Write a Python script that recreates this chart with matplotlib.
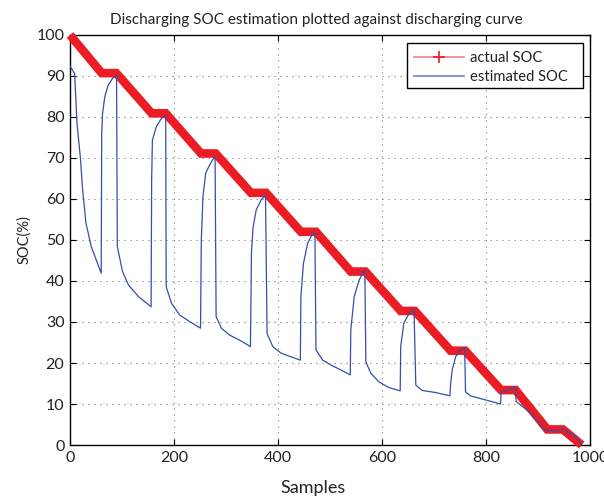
import matplotlib
matplotlib.use('Agg')
import matplotlib.pyplot as plt
from matplotlib.patches import Rectangle
import numpy as np

# actual SOC: discharge / rest staircase (sample, %)
actual_x = [0, 61, 89, 157, 184, 252, 280, 348, 377, 444, 473, 540, 568,
            636, 663, 732, 760, 829, 857, 918, 948, 984]
actual_y = [100, 90.7, 90.7, 80.9, 80.9, 71.1, 71.1, 61.5, 61.5, 52.0, 52.0,
            42.3, 42.3, 32.7, 32.7, 23.0, 23.0, 13.4, 13.4, 3.8, 3.8, 0]

# estimated SOC (sample, %)
est_x = [0, 9, 13.4, 19.8, 24.3, 30.7, 40.9, 51.8, 60,
         61, 62.6, 67, 73.5, 81.8, 88.2, 89.5,
         91, 101, 112.5, 131.7, 156,
         157, 158.5, 166, 176, 184,
         185, 195, 211, 230, 251,
         252.5, 255.7, 261, 268.5, 279,
         281, 291, 307, 326, 347,
         349, 352, 358, 367.6, 376,
         379, 390, 406, 425, 443,
         444, 449, 457, 466.5, 471,
         473, 486, 502, 521, 539,
         540, 546.5, 556, 564, 567,
         569, 578.5, 594, 613.6, 635,
         636, 642, 652, 661.6,
         665, 677.5, 703, 730.6,
         732, 735, 741.5, 751, 759,
         760.6, 770, 799, 828,
         829, 834, 853, 856.5,
         858, 879, 898, 911, 930, 949, 968, 978, 984]
est_y = [92.4, 90.6, 78.5, 70.3, 62.2, 54.1, 48.4, 44.7, 41.9,
         76.0, 80.9, 85.0, 87.8, 89.4, 90.1, 90.3,
         48.4, 42.3, 39.0, 36.2, 33.7,
         64.6, 74.4, 77.6, 79.7, 80.2,
         38.6, 34.6, 31.7, 30.1, 28.5,
         50.0, 60.6, 66.3, 68.3, 70.5,
         31.3, 28.5, 26.8, 25.6, 24.0,
         47.0, 53.0, 57.3, 59.8, 61.0,
         27.2, 24.0, 22.4, 21.5, 20.7,
         36.2, 44.3, 49.2, 51.6, 52.0,
         23.2, 20.7, 19.5, 18.3, 17.1,
         28.0, 36.2, 40.2, 42.3, 42.5,
         20.3, 17.5, 15.4, 14.0, 13.2,
         24.0, 29.7, 32.1, 33.1,
         14.6, 13.3, 12.8, 12.0,
         15.0, 18.3, 21.5, 23.2, 23.6,
         13.0, 12.0, 11.0, 10.0,
         12.6, 13.0, 14.0, 14.0,
         10.6, 8.5, 6.1, 3.7, 3.5, 3.8, 2.4, 1.2, 0.0]

xticks = [0, 200, 400, 600, 800, 1000]
yticks = list(range(0, 101, 10))

plt.rcParams['font.family'] = ['Lato', 'DejaVu Sans']
txt = '#222222'

fig = plt.figure(figsize=(6.04, 4.99), dpi=100)
ax = fig.add_axes([0.1159, 0.1082, 0.8609, 0.8217])

ax.plot(actual_x, actual_y, color='#ec1c24', lw=6.2, solid_joinstyle='miter',
        solid_capstyle='butt', clip_on=False, zorder=3)
ax.plot(est_x, est_y, color='#3350aa', lw=0.9, zorder=4)

ax.set_xlim(0, 1000)
ax.set_ylim(0, 100)
ax.set_xticks(xticks)
ax.set_yticks(yticks)
ax.grid(True, color='#777777', linestyle=(0, (1, 4.4)), linewidth=0.8)
ax.set_axisbelow(True)
ax.tick_params(direction='in', length=4, width=0.8, top=True, right=True,
               labelsize=11.5, colors='black', labelcolor=txt, pad=4)
for s in ax.spines.values():
    s.set_linewidth(1.0)

ax.set_title('Discharging SOC estimation plotted against discharging curve',
             fontsize=11, color=txt, pad=8, x=0.474)
ax.set_xlabel('Samples', fontsize=13, color=txt)
ax.xaxis.set_label_coords(0.468, -0.085)
ax.set_ylabel('SOC(%)', fontsize=10.5, color=txt, labelpad=4)

# legend box, wider on the right than the entries need
ax.add_patch(Rectangle((0.648, 0.8707), 0.3385, 0.1098, transform=ax.transAxes,
                       facecolor='white', edgecolor='black', lw=1.0,
                       zorder=5, clip_on=False))

h1, = ax.plot([], [], color='#f27f84', lw=1.2, marker='+', markersize=9,
              markeredgecolor='#ec1c24', markeredgewidth=1.2)
h2, = ax.plot([], [], color='#6c84cc', lw=1.2)
leg = ax.legend([h1, h2], ['actual SOC', 'estimated SOC'], loc='upper left',
                bbox_to_anchor=(0.6615, 0.961), borderaxespad=0,
                fontsize=10.6, handlelength=3.4, handletextpad=0.4,
                labelspacing=0.35, borderpad=0, frameon=False)
leg.set_zorder(6)
for t in leg.get_texts():
    t.set_color(txt)

fig.savefig('out.png', dpi=100)
